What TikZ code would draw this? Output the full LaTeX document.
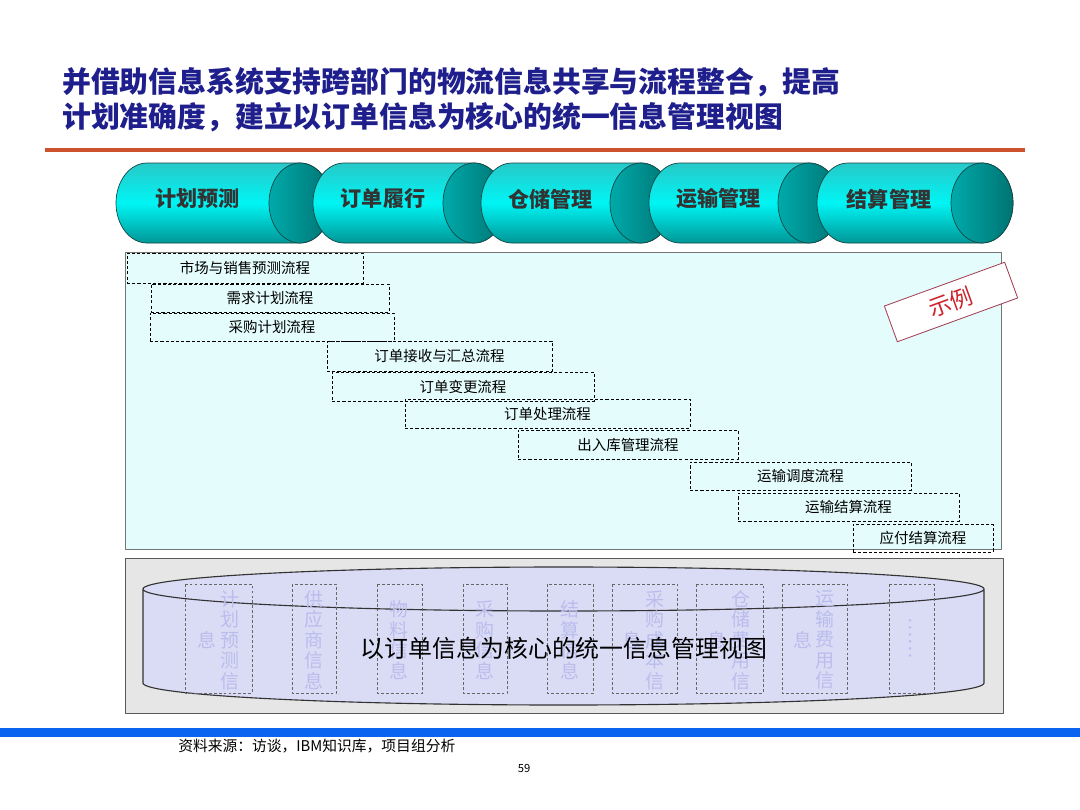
\documentclass[tikz,border=0pt]{standalone}
\usepackage{fontspec}
\setmainfont{Noto Sans CJK SC}
\definecolor{titleblue}{RGB}{30,30,140}
\definecolor{rulered}{RGB}{204,82,45}
\definecolor{barblue}{RGB}{10,100,240}
\definecolor{cylbody}{RGB}{0,245,245}
\definecolor{cyltop}{RGB}{40,200,200}
\definecolor{cylbot}{RGB}{0,150,150}
\definecolor{cylcap}{RGB}{0,170,170}
\definecolor{cylcapdark}{RGB}{0,115,115}
\definecolor{cyledge}{RGB}{20,70,70}
\definecolor{paneback}{RGB}{228,252,252}
\definecolor{viewgray}{RGB}{230,230,230}
\definecolor{viewlav}{RGB}{218,220,246}
\definecolor{fadeblue}{RGB}{186,189,236}
\definecolor{stampred}{RGB}{205,35,45}
\definecolor{stampedge}{RGB}{165,65,85}
\begin{document}
\begin{tikzpicture}[x=0.025cm, y=-0.025cm, line join=round,
	titletext/.style={anchor=west, inner sep=0pt, text=titleblue, font=\bfseries\fontsize{20.5}{24}\selectfont},
	cyltext/.style={inner sep=0pt, text=black!80, font=\bfseries\fontsize{15}{18}\selectfont},
	flowbox/.style={draw, dashed, dash pattern=on 2.2pt off 1.5pt, line width=0.5pt, inner sep=0pt, font=\fontsize{10.3}{12}\selectfont},
	colbox/.style={draw=black!60, dashed, dash pattern=on 2pt off 1.5pt, line width=0.45pt},
	fadetext/.style={inner sep=0pt, align=center, text=fadeblue, font=\fontsize{13.5}{14.6}\selectfont},
	stampbox/.style={draw=stampedge, fill=white, line width=0.6pt, text=stampred, minimum width=3.2cm, minimum height=0.95cm, font=\fontsize{16}{16}\selectfont}]
	%Khung trang
	\fill[white] (0,0) rectangle (1080,810);
	\useasboundingbox (0,0) rectangle (1080,810);
	%Tiêu đề
	\node[titletext] (title1) at (62,82) {并借助信息系统支持跨部门的物流信息共享与流程整合，提高};
	\node[titletext] (title2) at (62,117) {计划准确度，建立以订单信息为核心的统一信息管理视图};
	\draw[rulered, line width=2.2pt] (45,150) -- (1025,150);
	%Các trụ nghiệp vụ
	\def\rx{31}
	\foreach \l/\c/\txt/\nm in {116/300/计划预测/plan, 313/474/订单履行/order, 481/641/仓储管理/store, 649/809/运输管理/ship, 817/982/结算管理/settle}{
		\shade[top color=cyltop, bottom color=cylbot, middle color=cylbody, draw=cyledge, line width=0.5pt]
			({\l+\rx},163) arc[start angle=270, end angle=90, x radius=\rx, y radius=40] -- (\c,243)
			arc[start angle=90, end angle=-90, x radius=\rx, y radius=40] -- cycle;
		\shade[left color=cylcap, right color=cylcapdark, draw=cyledge, line width=0.5pt] (\c,203) ellipse[x radius=\rx, y radius=40];
		\node[cyltext] (\nm) at ({(\l+\c-\rx)/2+5},199) {\txt};
	}
	%Các luồng quy trình
	\draw[black!55, fill=paneback, line width=0.6pt] (125,252) rectangle (1001,549);
	\foreach \xa/\ya/\xb/\yb/\txt/\nm in {127/253/363/283/市场与销售预测流程/market, 151/284/389/312/需求计划流程/demand, 150/313/394/341/采购计划流程/purchase,
		327/341/552/371/订单接收与汇总流程/receive, 332/372/594/401/订单变更流程/change, 405/399/690/428/订单处理流程/handle,
		518/430/738/459/出入库管理流程/inout, 690/462/911/490/运输调度流程/dispatch, 738/493/959/521/运输结算流程/freight, 853/524/993/552/应付结算流程/payable}
	\node[flowbox, minimum width={(\xb-\xa)*0.025cm}, minimum height={(\yb-\ya)*0.025cm}] (\nm) at ({(\xa+\xb)/2},{(\ya+\yb)/2}) {\txt};
	\node[stampbox, rotate=20] (stamp) at (951,302) {示例};
	%Khối thông tin
	\draw[black!65, fill=viewgray, line width=0.6pt] (125,558) rectangle (1003,713);
	\fill[viewlav] (143,589) -- (143,683) arc[start angle=180, end angle=0, x radius=420.5, y radius=22]
		-- (984,589) arc[start angle=0, end angle=-180, x radius=420.5, y radius=22] -- cycle;
	\draw[black!80, line width=0.8pt] (143,589) -- (143,683) arc[start angle=180, end angle=0, x radius=420.5, y radius=22]
		-- (984,589) arc[start angle=0, end angle=-180, x radius=420.5, y radius=22]
		arc[start angle=180, end angle=0, x radius=420.5, y radius=22];
	\foreach \xa/\xb in {185/252, 292/336, 377/422, 463/507, 547/593, 612/677, 696/763, 782/847, 889/934}
	\draw[colbox] (\xa,584) rectangle (\xb,693);
	\foreach \x/\txt/\nm in {230/计\\划\\预\\测\\信/fplan, 207/息/fplanb, 314/供\\应\\商\\信\\息/fsupply, 399/物\\料\\信\\息/fmat,
		485/采\\购\\信\\息/fbuy, 570/结\\算\\信\\息/fsettle, 655/采\\购\\成\\本\\信/fcost, 632/息/fcostb,
		741/仓\\储\\费\\用\\信/fstore, 717/息/fstoreb, 825/运\\输\\费\\用\\信/fship, 803/息/fshipb}
	\node[fadetext] (\nm) at (\x,640) {\txt};
	\node[fadetext, rotate=-90] (fmore) at (911,638) {……};
	\node[inner sep=0pt, font=\fontsize{17}{20}\selectfont] (view) at (564,648) {以订单信息为核心的统一信息管理视图};
	%Chân trang
	\fill[barblue] (0,728) rectangle (1080,737);
	\node[anchor=west, inner sep=0pt, font=\fontsize{10.5}{12}\selectfont] (source) at (178,746) {资料来源：访谈，IBM知识库，项目组分析};
	\node[inner sep=0pt, font=\fontsize{8}{10}\selectfont] (page) at (524,768) {59};
\end{tikzpicture}
\end{document}
